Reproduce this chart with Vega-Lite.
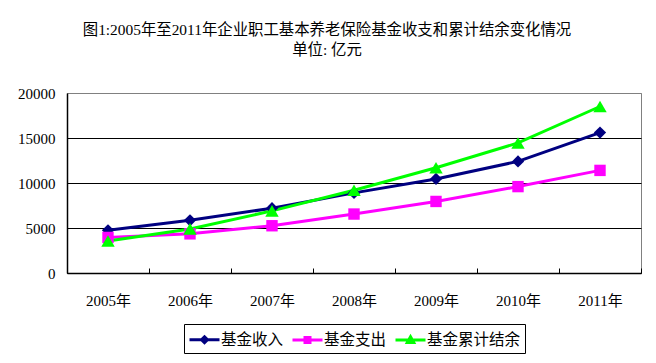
{
  "$schema": "https://vega.github.io/schema/vega-lite/v6.json",
  "autosize": "none",
  "width": 574,
  "height": 180,
  "padding": {"left": 67, "top": 93, "right": 15, "bottom": 90},
  "background": "white",
  "title": {
    "text": ["图1:2005年至2011年企业职工基本养老保险基金收支和累计结余变化情况", "单位: 亿元"],
    "font": "Liberation Serif, Noto Sans CJK SC",
    "fontSize": 15.4,
    "fontWeight": "normal",
    "color": "black",
    "anchor": "middle",
    "dx": -27,
    "offset": 28,
    "lineHeight": 20
  },
  "config": {
    "font": "Liberation Serif, Noto Sans CJK SC",
    "view": {"stroke": "#808080", "strokeWidth": 1},
    "axis": {"labelColor": "black", "labelFont": "Liberation Serif, Noto Sans CJK SC", "domainColor": "black", "tickColor": "black"}
  },
  "data": {
    "values": [
      {"year": "2005年", "series": "基金收入", "value": 4750},
      {"year": "2006年", "series": "基金收入", "value": 5850},
      {"year": "2007年", "series": "基金收入", "value": 7200},
      {"year": "2008年", "series": "基金收入", "value": 8900},
      {"year": "2009年", "series": "基金收入", "value": 10450},
      {"year": "2010年", "series": "基金收入", "value": 12400},
      {"year": "2011年", "series": "基金收入", "value": 15600},
      {"year": "2005年", "series": "基金支出", "value": 3950},
      {"year": "2006年", "series": "基金支出", "value": 4350},
      {"year": "2007年", "series": "基金支出", "value": 5250},
      {"year": "2008年", "series": "基金支出", "value": 6550},
      {"year": "2009年", "series": "基金支出", "value": 7950},
      {"year": "2010年", "series": "基金支出", "value": 9600},
      {"year": "2011年", "series": "基金支出", "value": 11400},
      {"year": "2005年", "series": "基金累计结余", "value": 3550},
      {"year": "2006年", "series": "基金累计结余", "value": 4900},
      {"year": "2007年", "series": "基金累计结余", "value": 6900},
      {"year": "2008年", "series": "基金累计结余", "value": 9200},
      {"year": "2009年", "series": "基金累计结余", "value": 11700},
      {"year": "2010年", "series": "基金累计结余", "value": 14450},
      {"year": "2011年", "series": "基金累计结余", "value": 18500}
    ]
  },
  "encoding": {
    "x": {
      "field": "year", "type": "ordinal", "title": null,
      "scale": {"type": "band", "paddingInner": 0, "paddingOuter": 0},
      "axis": {"labelAngle": 0, "labelFontSize": 15, "tickBand": "extent", "tickSize": -5, "labelPadding": 25, "grid": false, "domainWidth": 1.5}
    },
    "y": {
      "field": "value", "type": "quantitative", "title": null,
      "scale": {"domain": [0, 20000], "nice": false},
      "axis": {
        "values": [0, 5000, 10000, 15000, 20000],
        "format": "d",
        "labelFontSize": 15, "ticks": false, "labelPadding": 12, "domainWidth": 1.5,
        "grid": true, "gridWidth": 1,
        "gridColor": {"condition": {"test": "datum.value === 20000", "value": "#808080"}, "value": "black"}
      }
    }
  },
  "layer": [
    {
      "mark": {"type": "line", "strokeWidth": 3},
      "encoding": {
        "color": {
          "field": "series", "type": "nominal", "title": null,
          "scale": {"domain": ["基金收入", "基金支出", "基金累计结余"], "range": ["#000080", "#FF00FF", "#00FF00"]},
          "legend": {
            "orient": "none", "legendX": 117, "legendY": 231, "direction": "horizontal",
            "strokeColor": "black", "fillColor": "white", "padding": 4, "cornerRadius": 0,
            "labelFontSize": 15.5, "labelColor": "black", "labelFont": "Liberation Serif, Noto Sans CJK SC",
            "symbolSize": 400, "symbolStrokeWidth": 3, "labelOffset": 10, "columnPadding": 2,
            "encode": {
              "symbols": {
                "update": {
                  "shape": {"signal": "datum.value === '基金收入' ? 'M-1,0H2M0.5,-0.3L0.8,0L0.5,0.3L0.2,0Z' : datum.value === '基金支出' ? 'M-1,0H2M0.25,-0.25H0.75V0.25H0.25Z' : 'M-1,0H2M0.5,-0.32L0.82,0.25H0.18Z'"},
                  "fill": {"scale": "color", "field": "value"},
                  "stroke": {"scale": "color", "field": "value"},
                  "opacity": {"value": 1}
                }
              }
            }
          }
        }
      }
    },
    {
      "transform": [{"filter": "datum.series === '基金收入'"}],
      "mark": {"type": "point", "filled": true, "opacity": 1, "shape": "diamond", "size": 150, "color": "#000080"}
    },
    {
      "transform": [{"filter": "datum.series === '基金支出'"}],
      "mark": {"type": "point", "filled": true, "opacity": 1, "shape": "square", "size": 130, "color": "#FF00FF"}
    },
    {
      "transform": [{"filter": "datum.series === '基金累计结余'"}],
      "mark": {"type": "point", "filled": true, "opacity": 1, "shape": "triangle-up", "size": 180, "color": "#00FF00"}
    }
  ]
}
